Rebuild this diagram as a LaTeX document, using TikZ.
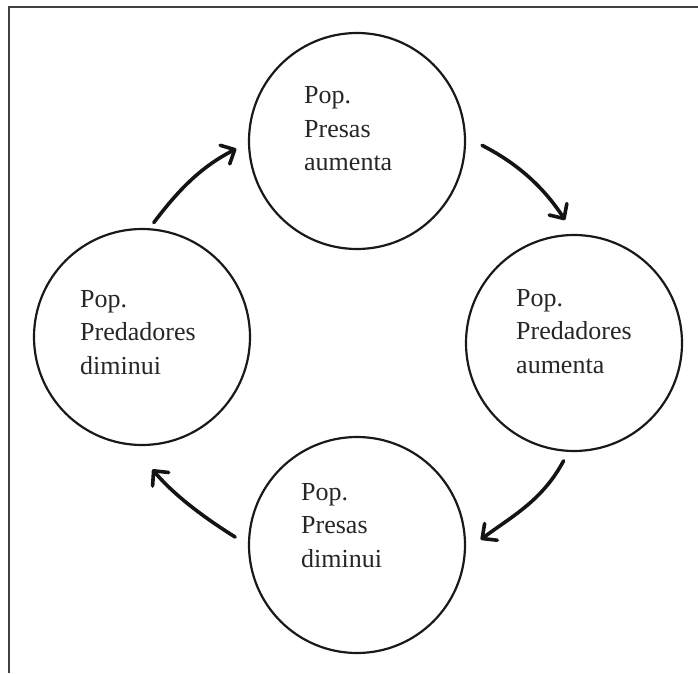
\documentclass[tikz,border=0pt]{standalone}
\usepackage{fontspec}
\setmainfont{Liberation Serif}
\usetikzlibrary{arrows.meta}
\tikzset{
  bubble/.style={circle, draw=black!90, line width=2.2pt, minimum size=216pt, inner sep=0pt},
  lbl/.style={anchor=base west, align=left, inner sep=0pt, text=black!85,
    font=\fontsize{26}{33.5}\selectfont},
  cyc/.style={line width=3.6pt, draw=black!92, line cap=round,
    -{Straight Barb[length=11pt,width=21pt,line cap=round,line join=round]}},
  frame/.style={line width=1.8pt, draw=black!75}
}
\begin{document}
\begin{tikzpicture}[x=1pt,y=1pt]
\useasboundingbox (0,0) rectangle (698,673);
\draw[frame] (9,0) -- (9,666) -- (698,666);
\node[bubble] (T) at (357,532) {};
\node[bubble] (R) at (574,330) {};
\node[bubble] (B) at (357,128) {};
\node[bubble] (L) at (142,336) {};
\node[lbl] (tT) at (304,502) {Pop.\\Presas\\aumenta};
\node[lbl] (tR) at (516,300) {Pop.\\Predadores\\aumenta};
\node[lbl] (tB) at (301,106) {Pop.\\Presas\\diminui};
\node[lbl] (tL) at (80,299) {Pop.\\Predadores\\diminui};
\draw[cyc, shorten <=18pt, shorten >=16.5pt] (T.2) to[out=-27,in=123] (R.90);
\draw[cyc, shorten <=10pt, shorten >=18.5pt] (R.267) to[out=242,in=37] (B.-3);
\draw[cyc, shorten <=15pt, shorten >=31pt] (B.180) to[out=148,in=-50] (L.265);
\draw[cyc, shorten <=7pt, shorten >=13pt] (L.86) to[out=53,in=-153] (T.181);
\end{tikzpicture}
\end{document}
